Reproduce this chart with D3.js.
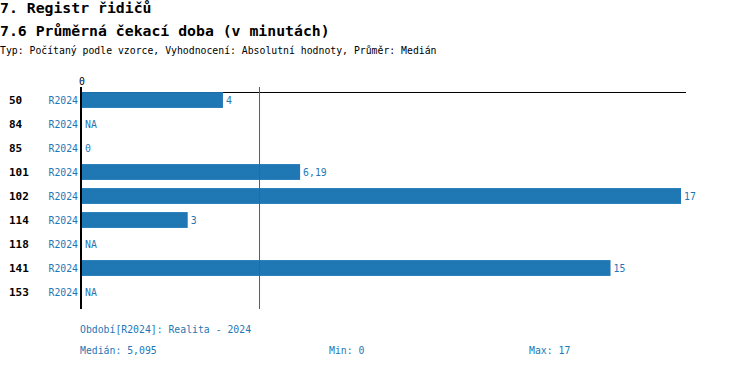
<!DOCTYPE html>
<meta charset="utf-8">
<html>
<head>
    <script src="https://cdn.jsdelivr.net/npm/d3@7"></script>
    <style>
        body { margin: 0; background: #fff; }
        text { font-family: "DejaVu Sans Mono", monospace; }
    </style>
</head>
<body>
    <script>
    var categories = ["50", "84", "85", "101", "102", "114", "118", "141", "153"];
    var period = "R2024";
    var values = [4, null, 0, 6.19, 17, 3, null, 15, null];
    var valueLabels = ["4", "NA", "0", "6,19", "17", "3", "NA", "15", "NA"];
    var medianValue = 5.095;
    var footerLines = ["Období[R2024]: Realita - 2024"];
    var stats = ["Medián: 5,095", "Min: 0", "Max: 17"];

    var blue = "#1f77b4";

    var svg = d3.select("body")
       .append("svg")
       .attr("width", 750)
       .attr("height", 368);

    svg.append("text").attr("x", 0).attr("y", 13)
       .attr("font-size", 14.8).attr("font-weight", "bold")
       .text("7. Registr řidičů");
    svg.append("text").attr("x", 0).attr("y", 36)
       .attr("font-size", 14.8).attr("font-weight", "bold")
       .text("7.6 Průměrná čekací doba (v minutách)");
    svg.append("text").attr("x", 0).attr("y", 54)
       .attr("font-size", 9.8)
       .text("Typ: Počítaný podle vzorce, Vyhodnocení: Absolutní hodnoty, Průměr: Medián");

    var xScale = d3.scaleLinear()
       .domain([0, 17])
       .range([82, 681]);

    var yScale = d3.scaleBand()
       .domain(categories)
       .range([88, 304])
       .paddingInner(0.34)
       .paddingOuter(0.17);

    // top axis line
    svg.append("line")
       .attr("x1", 80).attr("x2", 686)
       .attr("y1", 92.5).attr("y2", 92.5)
       .attr("stroke", "#000").attr("stroke-width", 1);

    svg.append("text")
       .attr("x", xScale(0)).attr("y", 85)
       .attr("text-anchor", "middle")
       .attr("font-size", 9.8)
       .text("0");

    var rows = svg.selectAll("g.row")
       .data(categories)
       .enter()
       .append("g")
       .attr("class", "row");

    rows.append("rect")
       .attr("x", xScale(0))
       .attr("y", function(d) { return yScale(d); })
       .attr("width", function(d, i) { return values[i] ? xScale(values[i]) - xScale(0) : 0; })
       .attr("height", yScale.bandwidth())
       .attr("fill", blue);

    rows.append("text")
       .attr("x", 9)
       .attr("y", function(d) { return yScale(d) + yScale.bandwidth() / 2 + 4; })
       .attr("font-size", 11)
       .attr("font-weight", "bold")
       .text(function(d) { return d; });

    rows.append("text")
       .attr("x", 78)
       .attr("y", function(d) { return yScale(d) + yScale.bandwidth() / 2 + 4; })
       .attr("text-anchor", "end")
       .attr("font-size", 9.8)
       .attr("fill", blue)
       .text(period);

    rows.append("text")
       .attr("x", function(d, i) { return xScale(values[i] || 0) + 3; })
       .attr("y", function(d) { return yScale(d) + yScale.bandwidth() / 2 + 4; })
       .attr("font-size", 9.8)
       .attr("fill", blue)
       .text(function(d, i) { return valueLabels[i]; });

    // median line
    svg.append("line")
       .attr("x1", xScale(medianValue) - 2).attr("x2", xScale(medianValue) - 2)
       .attr("y1", 87).attr("y2", 309)
       .attr("stroke", "#2a6a9a").attr("stroke-width", 1);

    // y axis line
    svg.append("line")
       .attr("x1", 81).attr("x2", 81)
       .attr("y1", 87).attr("y2", 309)
       .attr("stroke", "#000").attr("stroke-width", 2);

    svg.append("text").attr("x", 80).attr("y", 333)
       .attr("font-size", 9.8).attr("fill", blue)
       .text(footerLines[0]);

    var statX = [80, 329, 529];
    svg.selectAll("text.stat")
       .data(stats)
       .enter()
       .append("text")
       .attr("class", "stat")
       .attr("x", function(d, i) { return statX[i]; })
       .attr("y", 354)
       .attr("font-size", 9.8)
       .attr("fill", blue)
       .text(function(d) { return d; });
    </script>
</body>
</html>
